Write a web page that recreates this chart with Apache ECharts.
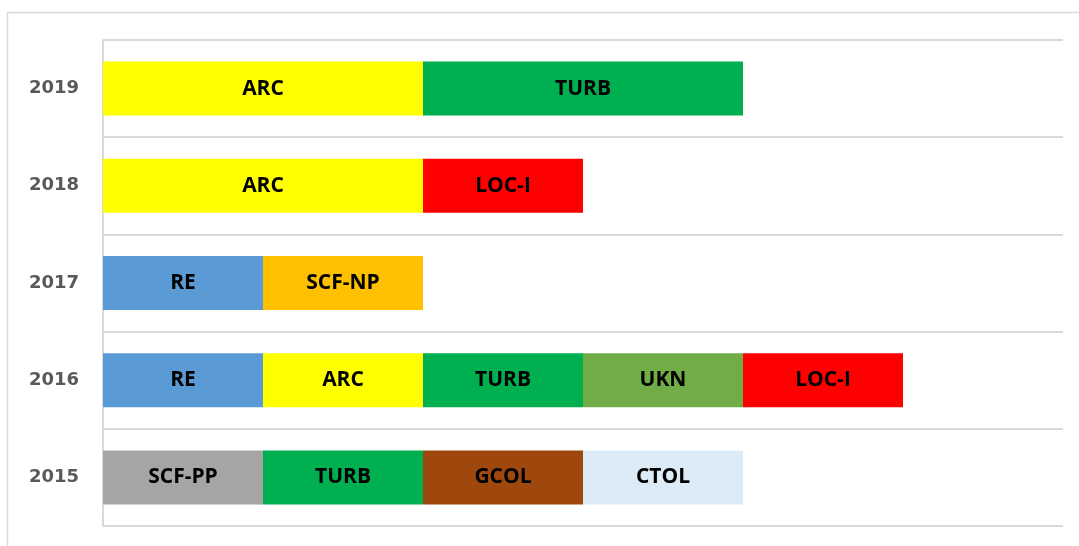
<!DOCTYPE html>
<html>
<head>
<meta charset="utf-8">
<script src="https://cdn.jsdelivr.net/npm/echarts@6/dist/echarts.min.js"></script>
<style>
  html, body { margin: 0; padding: 0; background: #fff; }
  #chart { width: 1079px; height: 546px; }
</style>
</head>
<body>
<div id="chart"></div>
<script>
const years = ['2015', '2016', '2017', '2018', '2019'];
const events2015 = ['SCF-PP', 'TURB', 'GCOL', 'CTOL'];
const counts2015 = [1, 1, 1, 1];
const events2016 = ['RE', 'ARC', 'TURB', 'UKN', 'LOC-I'];
const counts2016 = [1, 1, 1, 1, 1];
const events2017 = ['RE', 'SCF-NP'];
const counts2017 = [1, 1];
const events2018 = ['ARC', 'LOC-I'];
const counts2018 = [2, 1];
const events2019 = ['ARC', 'TURB'];
const counts2019 = [2, 2];

const rows = [events2015, events2016, events2017, events2018, events2019];
const counts = [counts2015, counts2016, counts2017, counts2018, counts2019];
const colors = {
    'ARC': '#FFFF00', 'TURB': '#00B050', 'LOC-I': '#FF0000', 'RE': '#5B9BD5',
    'SCF-NP': '#FFC000', 'UKN': '#70AD47', 'SCF-PP': '#A5A5A5', 'GCOL': '#9E480E',
    'CTOL': '#DDEBF7'
};

const slots = Math.max(...rows.map(r => r.length));
const series = [];
for (let i = 0; i < slots; i++) {
    series.push({
        type: 'bar', stack: 'all', barWidth: 54,
        data: rows.map((r, k) => r[i] ? { value: counts[k][i], name: r[i], itemStyle: { color: colors[r[i]] } } : '-'),
        label: {
            show: true, position: 'inside', formatter: p => p.name,
            color: '#000', fontWeight: 'bold', fontSize: 21, fontFamily: 'Open Sans'
        }
    });
}

const chart = echarts.init(document.getElementById('chart'));
chart.setOption({
    animation: false,
    graphic: [{
        type: 'rect', shape: { x: 7.5, y: 12.5, width: 1100, height: 600 },
        style: { fill: 'none', stroke: '#d9d9d9', lineWidth: 1.5 }, z: -1
    }],
    grid: { left: 103, right: 16, top: 40, bottom: 20 },
    xAxis: { type: 'value', min: 0, max: 6, show: false },
    yAxis: {
        type: 'category', data: years,
        axisLine: { show: true, lineStyle: { color: '#d9d9d9', width: 2 } },
        axisTick: { show: false },
        splitLine: { show: true, lineStyle: { color: '#d9d9d9', width: 2 } },
        axisLabel: { color: '#595959', fontWeight: 'bold', fontSize: 18, fontFamily: 'DejaVu Sans', margin: 24 }
    },
    series
});
</script>
</body>
</html>
